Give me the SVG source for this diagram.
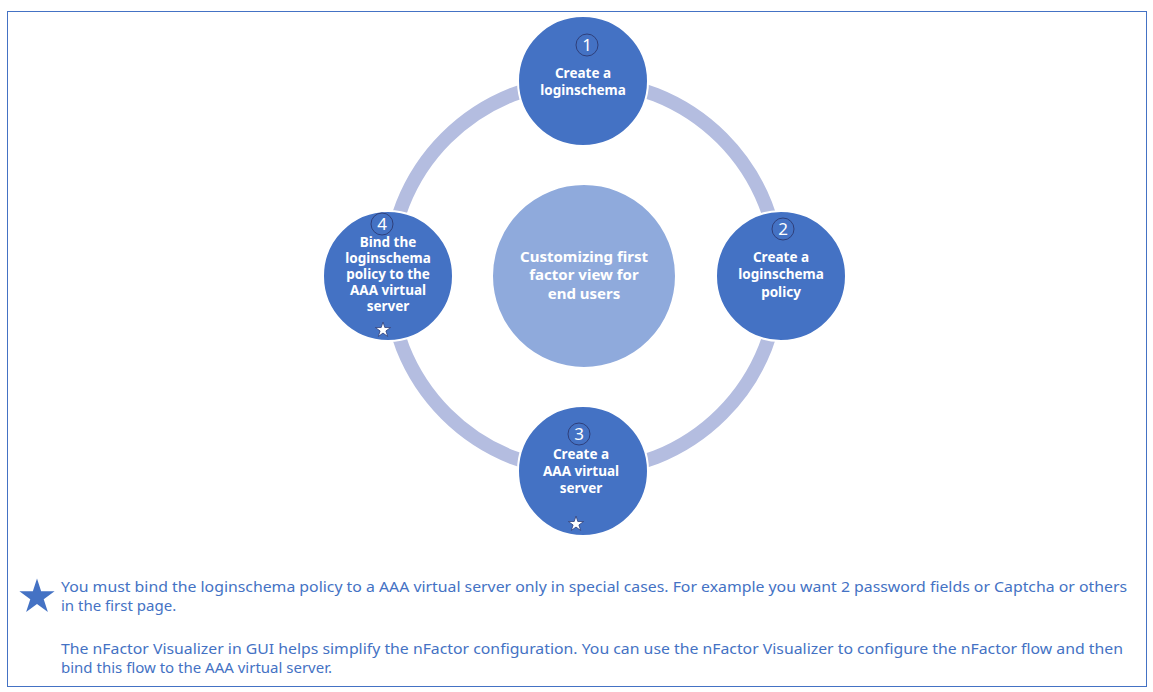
<svg xmlns="http://www.w3.org/2000/svg" xmlns:xlink="http://www.w3.org/1999/xlink" width="1153" height="692" viewBox="0 0 1153 692">
<style>
.node{fill:#4472C4;stroke:#ffffff;stroke-width:2}
.hub{fill:#8FAADC;stroke:#ffffff;stroke-width:2}
.t{font-family:"Noto Sans","Open Sans",sans-serif;font-weight:bold;font-size:13.5px;fill:#ffffff;text-anchor:middle}
.ct{font-family:"Noto Sans","Open Sans",sans-serif;font-weight:bold;font-size:15px;fill:#ffffff;text-anchor:middle}
.num{fill:none;stroke:#2F3F7A;stroke-width:1}
.nt{font-family:"Noto Sans","Open Sans",sans-serif;font-size:17px;fill:#ffffff;text-anchor:middle}
.note{font-family:"Noto Sans","Open Sans",sans-serif;font-size:15px;fill:#4472C4}
.ring{fill:none;stroke:#B4BDE0;stroke-width:14}
.sstar{fill:#ffffff;stroke:#2F3F7A;stroke-width:0.8}
</style>
<defs>
<path id="star8" d="M0,-8 L1.796,-2.472 L7.608,-2.472 L2.904,0.944 L4.704,6.472 L0,3.056 L-4.704,6.472 L-2.904,0.944 L-7.608,-2.472 L-1.796,-2.472Z"/>
</defs>
<rect x="7.5" y="11.5" width="1139" height="675" fill="#ffffff" stroke="#4472C4" stroke-width="1"/>
<g id="connectors">
<circle class="ring" cx="584" cy="276" r="195"/>
</g>
<g id="hub">
<circle class="hub" cx="584" cy="276" r="92"/>
<text class="ct" x="584" y="262">Customizing first</text>
<text class="ct" x="584" y="280">factor view for</text>
<text class="ct" x="584" y="299">end users</text>
</g>
<g id="node1">
<circle class="node" cx="583" cy="81" r="65"/>
<circle class="num" cx="587" cy="45" r="11"/>
<text class="nt" x="587" y="51">1</text>
<text class="t" x="583" y="78">Create a</text>
<text class="t" x="583" y="95">loginschema</text>
</g>
<g id="node2">
<circle class="node" cx="781" cy="276" r="65"/>
<circle class="num" cx="783" cy="229" r="11"/>
<text class="nt" x="783" y="235">2</text>
<text class="t" x="781" y="262">Create a</text>
<text class="t" x="781" y="279">loginschema</text>
<text class="t" x="781" y="297">policy</text>
</g>
<g id="node3">
<circle class="node" cx="583" cy="471" r="65"/>
<circle class="num" cx="579" cy="434" r="11"/>
<text class="nt" x="579" y="440">3</text>
<text class="t" x="581" y="459">Create a</text>
<text class="t" x="581" y="476">AAA virtual</text>
<text class="t" x="581" y="493">server</text>
<use href="#star8" xlink:href="#star8" class="sstar" transform="translate(576,524)"/>
</g>
<g id="node4">
<circle class="node" cx="388" cy="276" r="65"/>
<circle class="num" cx="382" cy="224" r="11"/>
<text class="nt" x="382" y="230">4</text>
<text class="t" x="388" y="247">Bind the</text>
<text class="t" x="388" y="263">loginschema</text>
<text class="t" x="388" y="279">policy to the</text>
<text class="t" x="388" y="295">AAA virtual</text>
<text class="t" x="388" y="311">server</text>
<use href="#star8" xlink:href="#star8" class="sstar" transform="translate(383,330)"/>
</g>
<g id="note">
<path fill="#4472C4" transform="translate(37,597)" d="M0,-18.5 L4.153,-5.717 L17.594,-5.717 L6.716,2.183 L10.878,14.967 L0,7.067 L-10.878,14.967 L-6.716,2.183 L-17.594,-5.717 L-4.153,-5.717Z"/>
<text class="note" x="61" y="592" textLength="1066" lengthAdjust="spacingAndGlyphs">You must bind the loginschema policy to a AAA virtual server only in special cases. For example you want 2 password fields or Captcha or others</text>
<text class="note" x="61" y="611">in the first page.</text>
<text class="note" x="61" y="654" textLength="1062" lengthAdjust="spacingAndGlyphs">The nFactor Visualizer in GUI helps simplify the nFactor configuration. You can use the nFactor Visualizer to configure the nFactor flow and then</text>
<text class="note" x="61" y="673">bind this flow to the AAA virtual server.</text>
</g>
</svg>
